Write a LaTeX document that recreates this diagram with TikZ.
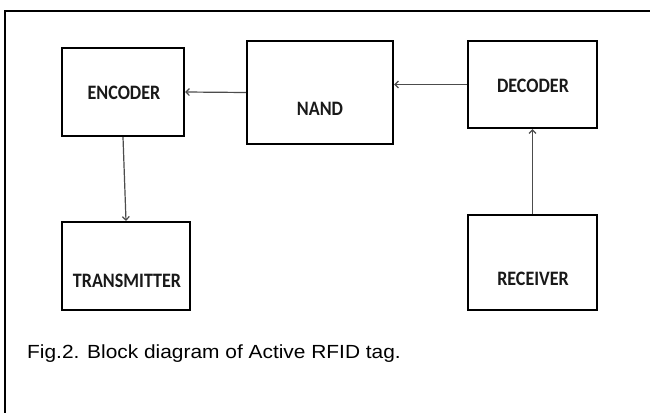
\documentclass[tikz,border=0pt]{standalone}
\usepackage{fontspec}
\setmainfont{Liberation Sans}
\newfontfamily\boxfont{Carlito}
\usetikzlibrary{arrows.meta}
\tikzset{
  blk/.style={draw=black, line width=2.2pt, rectangle, inner sep=0pt},
  lbl/.style={inner sep=0pt, font=\boxfont\bfseries\fontsize{20.5}{20.5}\selectfont, text=black!90},
  arr/.style={draw=black!70, line width=1.2pt, -{Straight Barb[length=3.5pt,width=7pt]}},
  frame/.style={draw=black, line width=2pt},
}
\newcommand{\bx}[1]{\scalebox{0.88}[1]{#1}}
\begin{document}
\begin{tikzpicture}[x=1pt,y=-1pt]
\useasboundingbox (0,0) rectangle (650,412);
\clip (0,0) rectangle (650,412);
\fill[white] (0,0) rectangle (650,412);
\draw[frame] (5,430) -- (5,11) -- (670,11);

\node[blk, minimum width=122pt, minimum height=88pt] (enc) at (123,92) {};
\node[blk, minimum width=146pt, minimum height=103pt] (nand) at (320,92.5) {};
\node[blk, minimum width=129pt, minimum height=87pt] (dec) at (532.5,84.5) {};
\node[blk, minimum width=128pt, minimum height=88pt] (tra) at (126,266) {};
\node[blk, minimum width=129pt, minimum height=95pt] (rec) at (532.5,262.5) {};

\node[lbl] (encT) at (124,92.5) {\bx{ENCODER}};
\node[lbl] (nandT) at (320,108.5) {\bx{NAND}};
\node[lbl] (decT) at (533,86) {\bx{DECODER}};
\node[lbl] (traT) at (127,281) {\bx{TRANSMITTER}};
\node[lbl] (recT) at (533,278.5) {\bx{RECEIVER}};

\draw[arr] (nand.west) -- (enc.east);
\draw[arr] (dec.west) -- (dec.west -| nand.east);
\draw[arr] (rec.north) -- (dec.south);
\draw[arr] (enc.south) -- (tra.north);

\node[anchor=base west, inner sep=0pt, font=\fontsize{19}{19}\selectfont] (cap) at (27,358)
  {\scalebox{1.1}[1]{Fig.2. Block diagram of Active RFID tag.}};
\end{tikzpicture}
\end{document}
